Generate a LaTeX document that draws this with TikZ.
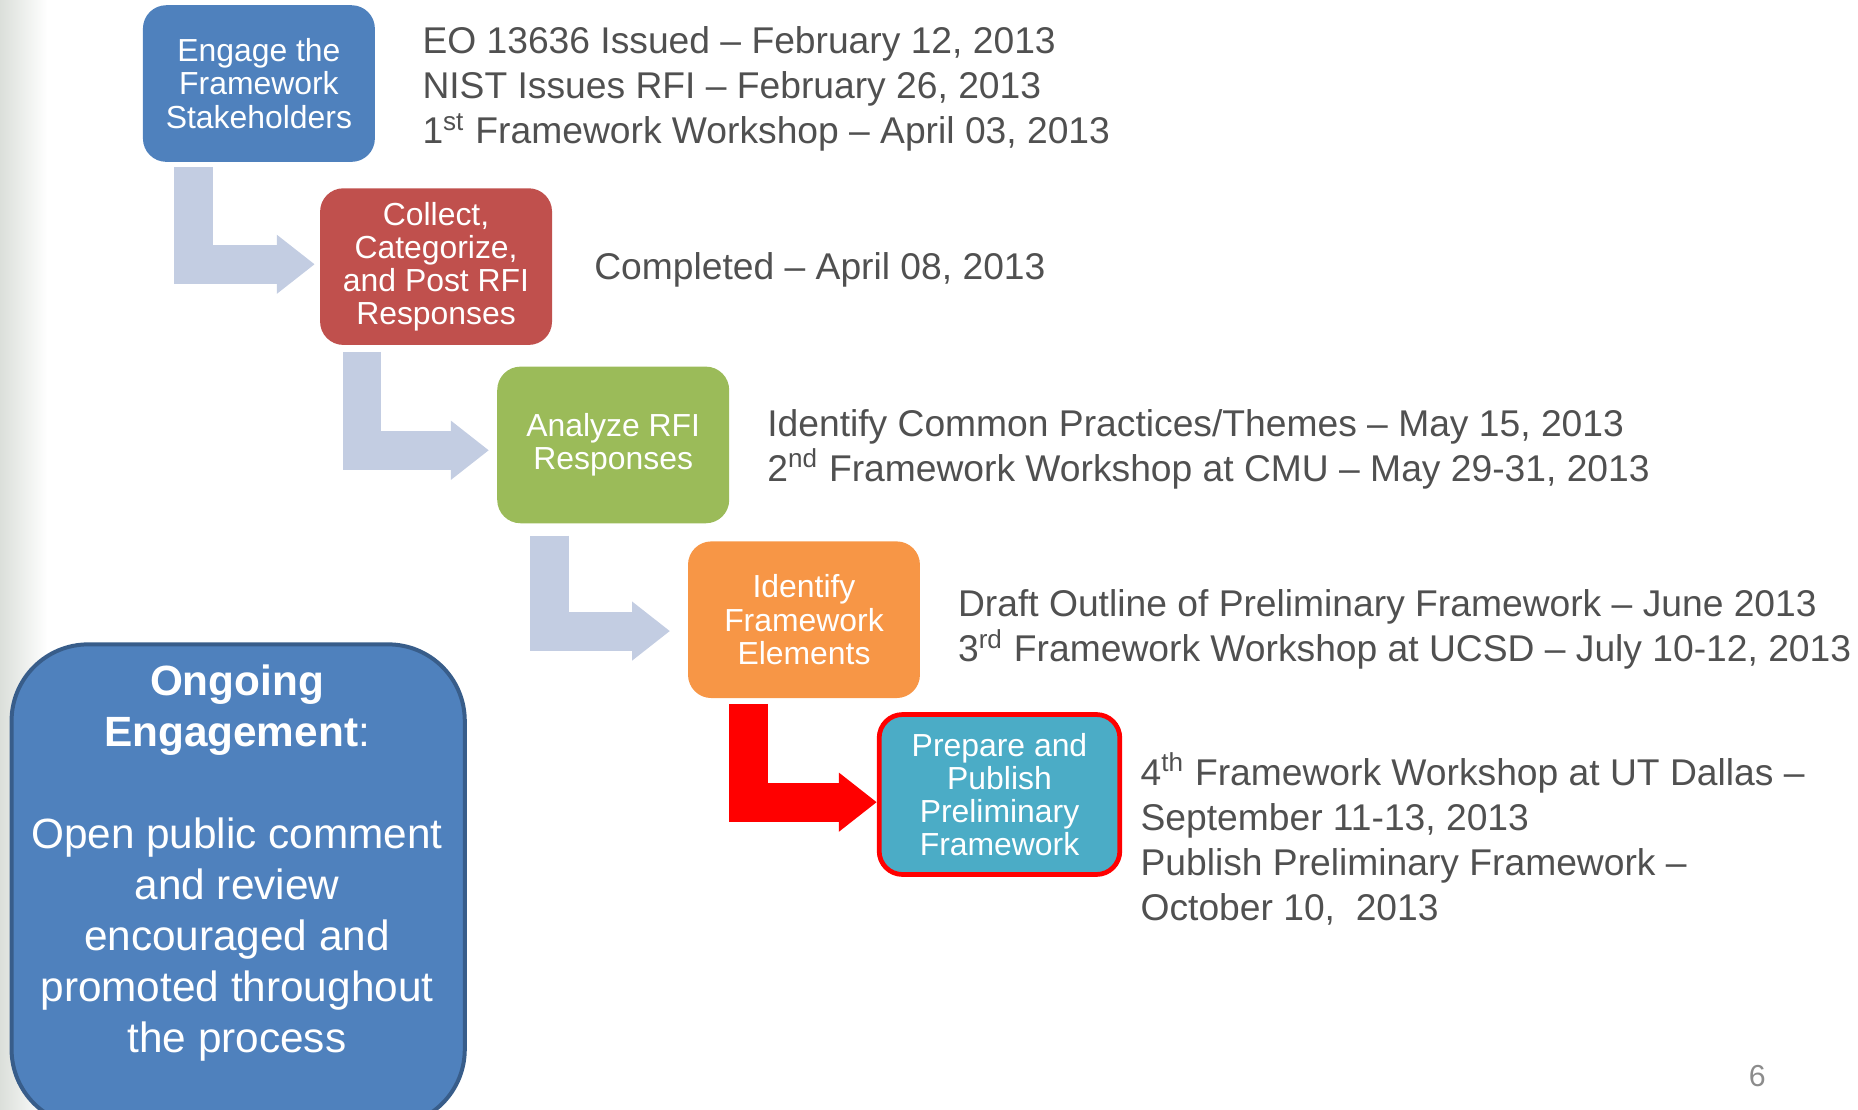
\documentclass[tikz,border=0pt]{standalone}
\usepackage{fontspec}
\setmainfont{Liberation Sans}
\usepackage{tikz}
\usetikzlibrary{arrows.meta}
\definecolor{stageblue}{RGB}{79,129,189}
\definecolor{stagered}{RGB}{192,80,77}
\definecolor{stagegreen}{RGB}{155,187,89}
\definecolor{stageorange}{RGB}{247,150,70}
\definecolor{stagecyan}{RGB}{75,172,198}
\definecolor{ongoingedge}{RGB}{56,93,138}
\definecolor{bendgray}{RGB}{195,205,226}
\definecolor{datetext}{RGB}{80,80,80}
\definecolor{pagegray}{RGB}{140,140,140}
\definecolor{slideedge}{RGB}{219,223,218}
\tikzset{
  stage/.style = {rectangle, rounded corners=7pt, minimum width=69.6pt, minimum height=47pt, inner sep=0pt, text=white, align=center, font=\fontsize{9.57}{9.96}\selectfont},
  dates/.style = {anchor=west, inner sep=0pt, align=left, text=datetext, font=\fontsize{11.17}{13.5}\selectfont},
  bendarrow/.style = {draw=bendgray, line width=11.7pt, line join=miter, -{Triangle[length=11.4pt,width=17pt]}}
}
\newcommand{\Th}[1]{\textsuperscript{#1}}

\begin{document}
\begin{tikzpicture}[x=0.0125cm,y=-0.0125cm]
\useasboundingbox (0,0) rectangle (1568,936);
\clip (0,0) rectangle (1568,936);
\shade[left color=slideedge, right color=white] (0,0) rectangle (40,936);

% the five stages
\node[stage, fill=stageblue] (engage) at (218.5,70.5) {Engage the\\Framework\\Stakeholders};
\node[stage, fill=stagered] (collect) at (368,225) {Collect,\\Categorize,\\and Post RFI\\Responses};
\node[stage, fill=stagegreen] (analyze) at (517.5,375.5) {Analyze RFI\\Responses};
\node[stage, fill=stageorange] (identify) at (678.5,523) {Identify\\Framework\\Elements};
\node[stage, fill=stagecyan, draw=red, line width=1.42pt, minimum width=72.2pt, minimum height=48pt] (publish) at (843.5,670.5) {Prepare and\\Publish\\Preliminary\\Framework};

% bent arrows between the stages
\coordinate (bend1) at (163.5,141);
\coordinate (bend2) at (305.5,297);
\coordinate (bend3) at (463.5,452);
\coordinate (bend4) at (631.5,594);
\draw[bendarrow, shorten >=1.4pt] (bend1) |- ([yshift=0.7pt]collect.west);
\draw[bendarrow, shorten >=2.3pt] (bend2) |- ([yshift=-1.6pt]analyze.west);
\draw[bendarrow, shorten >=5.2pt] (bend3) |- ([yshift=-3.4pt]identify.west);
\draw[bendarrow, draw=red] (bend4) |- ([yshift=-2.3pt]publish.west);

% dates
\node[dates] (dates1) at (356,75) {EO 13636 Issued – February 12, 2013\\NIST Issues RFI – February 26, 2013\\1\Th{st} Framework Workshop – April 03, 2013};
\node[dates] (dates2) at (501,228) {Completed – April 08, 2013};
\node[dates] (dates3) at (647,379) {Identify Common Practices/Themes – May 15, 2013\\2\Th{nd} Framework Workshop at CMU – May 29-31, 2013};
\node[dates] (dates4) at (808,531) {Draft Outline of Preliminary Framework – June 2013\\3\Th{rd} Framework Workshop at UCSD – July 10-12, 2013};
\node[dates] (dates5) at (962,708) {4\Th{th} Framework Workshop at UT Dallas –\\September 11-13, 2013\\Publish Preliminary Framework –\\October 10,~~2013};

% ongoing engagement
\node[draw=ongoingedge, fill=stageblue, line width=1.2pt, rounded corners=23pt, minimum width=136pt, minimum height=144.5pt, inner sep=0pt] (ongoing) at (201,747) {};
\node[align=center, text=white, inner sep=0pt, font=\fontsize{12.7}{15.3}\selectfont] (ongoingtext) at (200,728) {\textbf{Ongoing}\\\textbf{Engagement}:\\[15.3pt]Open public comment\\and review\\encouraged and\\promoted throughout\\the process};

\node[text=pagegray, inner sep=0pt, font=\fontsize{9.1}{11}\selectfont] (pagenum) at (1483,908) {6};
\end{tikzpicture}
\end{document}
